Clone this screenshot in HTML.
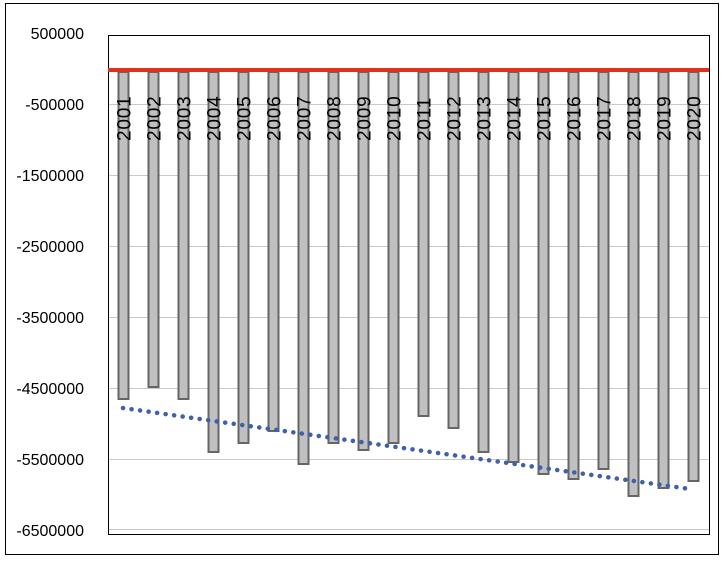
<!DOCTYPE html>
<html><head><meta charset="utf-8"><style>
html,body{margin:0;padding:0;background:#fff;}
</style></head><body>
<svg width="726" height="558" xmlns="http://www.w3.org/2000/svg" font-family="'Liberation Sans', sans-serif">
<rect x="0" y="0" width="726" height="558" fill="#fff"/>
<rect x="5.5" y="3.5" width="713" height="551" fill="none" stroke="#000" stroke-width="1"/>
<g stroke="#c8c8c8" stroke-width="1">
<line x1="108" y1="104.5" x2="709" y2="104.5"/>
<line x1="108" y1="175.5" x2="709" y2="175.5"/>
<line x1="108" y1="246.5" x2="709" y2="246.5"/>
<line x1="108" y1="317.5" x2="709" y2="317.5"/>
<line x1="108" y1="388.5" x2="709" y2="388.5"/>
<line x1="108" y1="459.5" x2="709" y2="459.5"/>
<line x1="108" y1="529.5" x2="709" y2="529.5"/>
</g>
<rect x="108.5" y="35.5" width="601" height="499" fill="none" stroke="#000" stroke-width="1"/>
<g font-size="16" fill="#000" text-anchor="end">
<text x="84" y="39">500000</text>
<text x="84" y="110">-500000</text>
<text x="84" y="181">-1500000</text>
<text x="84" y="252">-2500000</text>
<text x="84" y="323">-3500000</text>
<text x="84" y="394">-4500000</text>
<text x="84" y="465">-5500000</text>
<text x="84" y="536">-6500000</text>
</g>
<g fill="#c0c0c0" stroke="#666" stroke-width="2" id="bars"></g>
<g id="labels" font-size="19" fill="#000" letter-spacing="0.8"></g>
<line x1="108" y1="70" x2="709" y2="70" stroke="#e03020" stroke-width="4"/>
<line x1="123" y1="408" x2="690" y2="489" stroke="#4060a8" stroke-width="4.5" stroke-linecap="round" stroke-dasharray="0.1 8.5"/>
<script>
var b=[399,387,399,452,443,431,464,443,450,443,416,428,452,462,474,479,469,496,488,481];
var g=document.getElementById('bars'),l=document.getElementById('labels'),ns='http://www.w3.org/2000/svg';
for(var i=0;i<20;i++){var cx=123.5+i*30;
var r=document.createElementNS(ns,'rect');r.setAttribute('x',cx-5);r.setAttribute('y',72);r.setAttribute('width',10);r.setAttribute('height',b[i]-72);g.appendChild(r);
var t=document.createElementNS(ns,'text');t.setAttribute('transform','translate('+(cx+7)+',141) rotate(-90)');t.textContent=String(2001+i);l.appendChild(t);}
</script>
</svg>
</body></html>
